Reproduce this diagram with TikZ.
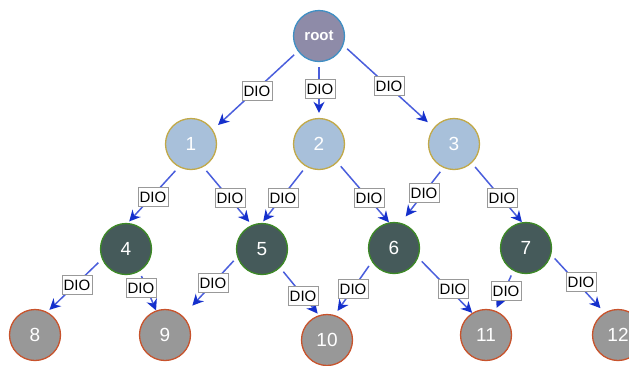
\documentclass[tikz,border=0pt]{standalone}
\usepackage{fontspec}
\setmainfont{Liberation Sans}
\usetikzlibrary{arrows.meta}
\definecolor{rootfill}{HTML}{8E8BA8}
\definecolor{rootline}{HTML}{3F8FC4}
\definecolor{midfill}{HTML}{A8C0DA}
\definecolor{midline}{HTML}{C2A948}
\definecolor{lowfill}{HTML}{455A5A}
\definecolor{lowline}{HTML}{3D8A26}
\definecolor{leaffill}{HTML}{989898}
\definecolor{leafline}{HTML}{C8532C}
\definecolor{edgeblue}{HTML}{4A5EDC}
\definecolor{tipblue}{HTML}{1530CC}

\begin{document}
\begin{tikzpicture}[x=1pt,y=-1pt,
    vertex/.style={circle,minimum size=51pt,inner sep=0pt,line width=1.3pt,text=white,font=\fontsize{19}{19}\selectfont},
    rootnode/.style={vertex,draw=rootline,fill=rootfill,font=\fontsize{15}{15}\selectfont\bfseries},
    midnode/.style={vertex,draw=midline,fill=midfill},
    lownode/.style={vertex,draw=lowline,fill=lowfill},
    leafnode/.style={vertex,draw=leafline,fill=leaffill},
    flow/.style={draw=edgeblue,line width=1.5pt,shorten <=5pt,-{Stealth[length=11pt,width=11pt,inset=3.5pt,color=tipblue]}},
    lbl/.style={draw=black!40,fill=white,line width=0.5pt,inner xsep=1.5pt,inner ysep=4pt,font=\fontsize{15}{15}\selectfont}]
    \useasboundingbox (0,0) rectangle (629,365);

    \node[rootnode] (root) at (319,36) {root};

    \node[midnode] (n1) at (191,144) {1};
    \node[midnode] (n2) at (319,144) {2};
    \node[midnode] (n3) at (454,144) {3};

    \node[lownode] (n4) at (126,249) {4};
    \node[lownode] (n5) at (262,249) {5};
    \node[lownode] (n6) at (394,248) {6};
    \node[lownode] (n7) at (526,248) {7};

    \node[leafnode] (n8) at (35,335) {8};
    \node[leafnode] (n9) at (165,335) {9};
    \node[leafnode] (n10) at (327,340) {10};
    \node[leafnode] (n11) at (486,335) {11};
    \node[leafnode] (n12) at (618,335) {12};

    % DIO edges: from/angle, to/angle, gap at the tip, label position
    \foreach \a/\sa/\b/\ta/\g/\lx/\ly in {
        root/-144/n1/33/7/257/91, root/-90/n2/90/5/320/89, root/-21/n3/141/8/389/86,
        n1/-118/n4/86/2/153/197, n1/-62/n5/113/4/230/198,
        n2/-120/n5/90/2/283/198, n2/-45/n6/101/0/369/198,
        n3/-114/n6/75/8/424/193, n3/-47/n7/99/0/502/198,
        n4/-157/n8/62/3/77/285, n4/-59/n9/110/0/141/288,
        n5/-162/n9/47/14/213/283, n5/-46/n10/108/2/303/296,
        n6/-148/n10/73/5/353/289, n6/-22/n11/122/0/453/289,
        n7/-119/n11/69/3/506/291, n7/-15/n12/121/6/581/282} {
        \draw[flow,shorten >=\g pt] (\a.\sa) -- (\b.\ta);
        \node[lbl] (l\a\b) at (\lx,\ly) {DIO};
    }
\end{tikzpicture}
\end{document}
